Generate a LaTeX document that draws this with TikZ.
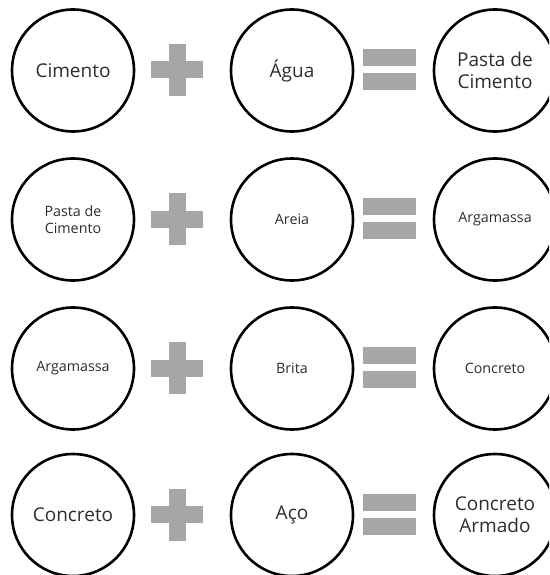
\documentclass[tikz,border=0pt]{standalone}
\usepackage{fontspec}
\setmainfont{Open Sans}
\usetikzlibrary{positioning}

\definecolor{signgray}{RGB}{166,166,166}
\definecolor{textgray}{RGB}{45,45,45}

\begin{document}
\begin{tikzpicture}[x=1pt, y=-1pt,
    ingr/.style={circle, draw, line width=2.6pt, minimum size=122pt, inner sep=0pt, align=center, text=textgray},
    big/.style={font=\fontsize{19}{22}\selectfont},
    small/.style={font=\fontsize{14.3}{17}\selectfont},
    hbar/.style={rectangle, fill=signgray, minimum width=52pt, minimum height=17pt, inner sep=0pt},
    vbar/.style={rectangle, fill=signgray, minimum width=17pt, minimum height=52pt, inner sep=0pt},
    eqbar/.style={rectangle, fill=signgray, minimum width=53pt, minimum height=17pt, inner sep=0pt}]

    % page frame
    \clip (0,0) rectangle (549,575);

    % Row 1: Cimento + Agua = Pasta de Cimento
    \node[ingr, big] (cimento) at (73,70.5) {Cimento};
    \node[hbar] (plusAh) at (177,70) {};
    \node[vbar] (plusAv) at (177,70) {};
    \node[ingr, big] (agua) at (292,70.5) {Água};
    \node[eqbar] (eqAtop) at (389.5,57.5) {};
    \node[eqbar, below=7pt of eqAtop] (eqAbot) {};
    \node[ingr, big] (pasta) at (495,70.5) {Pasta de\\Cimento};

    % Row 2: Pasta de Cimento + Areia = Argamassa
    \node[ingr, small] (pastaB) at (73,219.5) {Pasta de\\Cimento};
    \node[hbar] (plusBh) at (177,219) {};
    \node[vbar] (plusBv) at (177,219) {};
    \node[ingr, small] (areia) at (292,219.5) {Areia};
    \node[eqbar] (eqBtop) at (389.5,206.5) {};
    \node[eqbar, below=7pt of eqBtop] (eqBbot) {};
    \node[ingr, small] (argamassa) at (495,219.5) {Argamassa};

    % Row 3: Argamassa + Brita = Concreto
    \node[ingr, small] (argamassaC) at (73,368.5) {Argamassa};
    \node[hbar] (plusCh) at (177,368) {};
    \node[vbar] (plusCv) at (177,368) {};
    \node[ingr, small] (brita) at (292,368.5) {Brita};
    \node[eqbar] (eqCtop) at (389.5,355.5) {};
    \node[eqbar, below=7pt of eqCtop] (eqCbot) {};
    \node[ingr, small] (concreto) at (495,368.5) {Concreto};

    % Row 4: Concreto + Aco = Concreto Armado
    \node[ingr, big] (concretoD) at (73,515) {Concreto};
    \node[hbar] (plusDh) at (177,514.5) {};
    \node[vbar] (plusDv) at (177,514.5) {};
    \node[ingr, big] (aco) at (292,515) {Aço};
    \node[eqbar] (eqDtop) at (389.5,502) {};
    \node[eqbar, below=7pt of eqDtop] (eqDbot) {};
    \node[ingr, big] (armado) at (495,515) {Concreto\\Armado};

\end{tikzpicture}
\end{document}
